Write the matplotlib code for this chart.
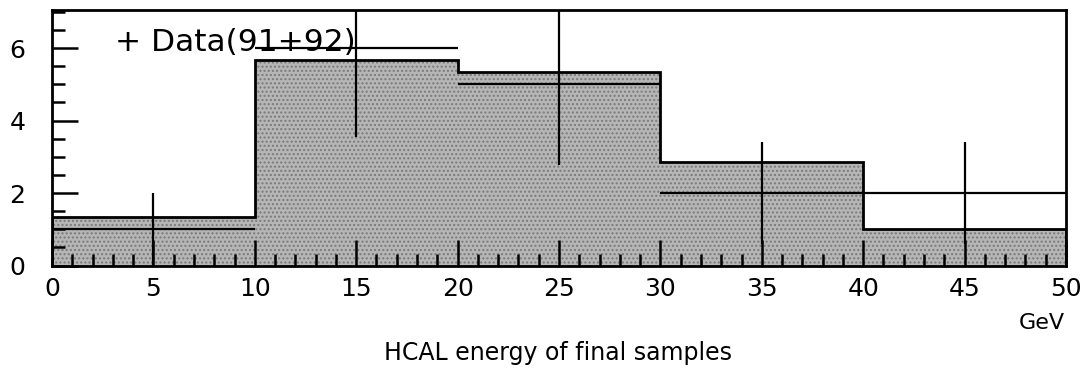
import numpy as np
import matplotlib.pyplot as plt
from matplotlib.ticker import MultipleLocator

bin_edges = [0, 10, 20, 30, 40, 50]
mc_counts = [1.33, 5.68, 5.33, 2.85, 1.0]
data_x = [5, 15, 25, 35, 45]
data_y = [1, 6, 5, 2, 2]
data_err = [1.0, 2.45, 2.24, 1.41, 1.41]

fig = plt.figure(figsize=(10.91, 3.71), dpi=100)
ax = fig.add_axes([52 / 1091, 1 - 265.5 / 371, 1014 / 1091, 255.5 / 371])

# stippled MC histogram
ax.stairs(mc_counts, bin_edges, fill=True, facecolor='#b6b6b6', edgecolor='#7a7a7a',
          hatch='....', linewidth=0, zorder=1)
ax.stairs(mc_counts, bin_edges, color='black', linewidth=2, zorder=2)

ax.errorbar(data_x, data_y, xerr=5, yerr=data_err, fmt='none', ecolor='black',
            elinewidth=1.6, capsize=0, zorder=3)

ax.set_xlim(0, 50)
ax.set_ylim(0, 7.05)
for s in ax.spines.values():
    s.set_linewidth(2)

ax.xaxis.set_major_locator(MultipleLocator(5))
ax.xaxis.set_minor_locator(MultipleLocator(1))
ax.yaxis.set_major_locator(MultipleLocator(2))
ax.yaxis.set_minor_locator(MultipleLocator(0.5))
ax.tick_params(which='major', direction='in', length=19, width=1.8, labelsize=18,
               top=False, right=False, pad=8)
ax.tick_params(which='minor', direction='in', length=9, width=1.8, top=False, right=False)
ax.tick_params(axis='y', which='major', pad=19)

ax.text(0.062, 0.93, '+ Data(91+92)', transform=ax.transAxes, fontsize=22.5,
        va='top', ha='left', zorder=4)
fig.text(1042 / 1091, 1 - 323 / 371, 'GeV', fontsize=16, ha='center', va='center')
fig.text(558 / 1091, 1 - 353 / 371, 'HCAL energy of final samples', fontsize=17,
         ha='center', va='center')

fig.savefig('out.png', dpi=100)
